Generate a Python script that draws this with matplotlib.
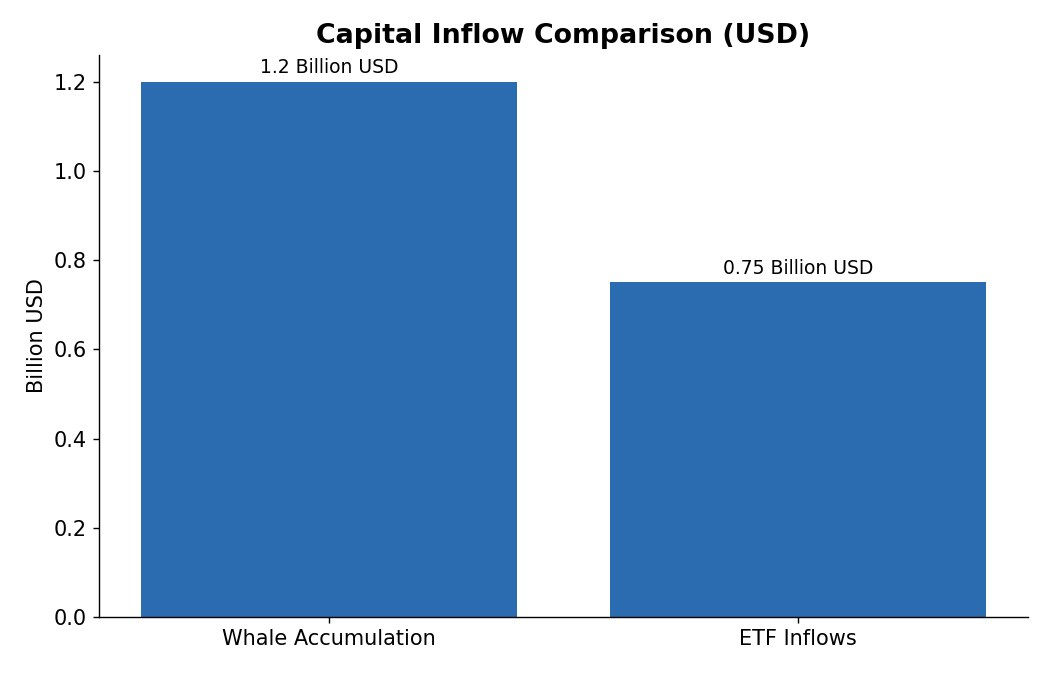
import matplotlib
matplotlib.use("Agg")
import matplotlib.pyplot as plt

plt.rcParams["font.family"] = ["DejaVu Sans"]

categories = ["Whale Accumulation", "ETF Inflows"]
values = [1.2, 0.75]
labels = ["1.2 Billion USD", "0.75 Billion USD"]

fig = plt.figure(figsize=(8.4, 5.4), dpi=125)
ax = fig.add_axes([0.0943, 0.0859, 0.8847, 0.8326])

bars = ax.bar(categories, values, width=0.8, color="#2b6cb0")
for b, txt in zip(bars, labels):
    ax.text(b.get_x() + b.get_width() / 2, b.get_height() + 0.01, txt,
            ha="center", va="bottom", fontsize=10.8)

ax.set_ylim(0, 1.26)
ax.set_ylabel("Billion USD", fontsize=12)
ax.set_title("Capital Inflow Comparison (USD)", fontsize=15.4, fontweight="bold", pad=7)
ax.tick_params(axis="both", labelsize=12)
ax.spines["top"].set_visible(False)
ax.spines["right"].set_visible(False)

fig.savefig("out.png", dpi=125)
